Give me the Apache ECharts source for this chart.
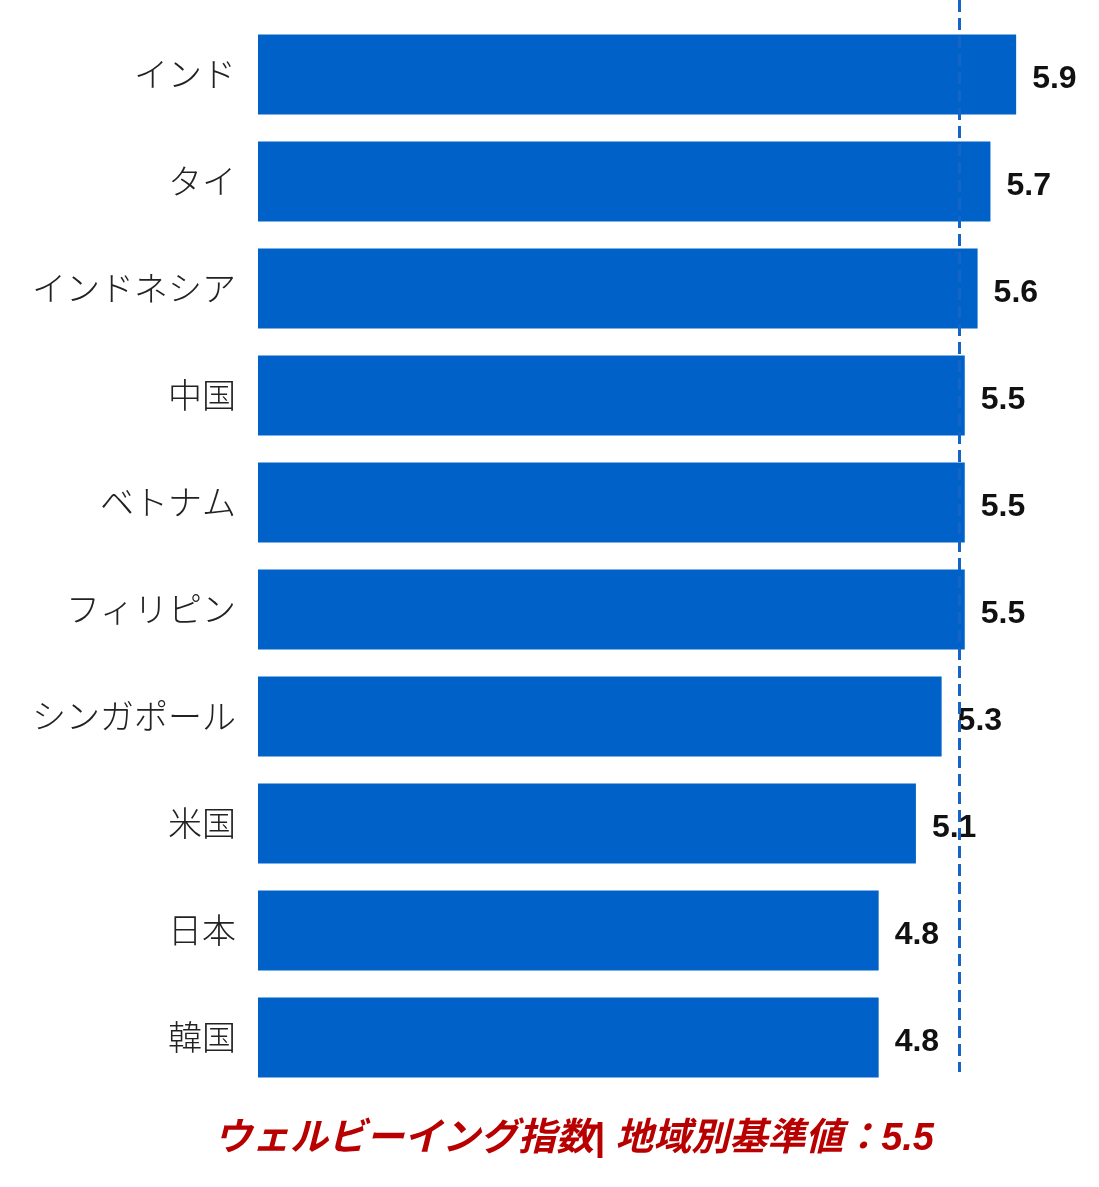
<!DOCTYPE html>
<html>
<head>
<meta charset="utf-8">
<script src="https://cdn.jsdelivr.net/npm/echarts@6/dist/echarts.min.js"></script>
<style>
  html, body { margin: 0; padding: 0; background: #fff; }
  #main { width: 1099px; height: 1187px; }
</style>
</head>
<body>
<div id="main"></div>
<script>
// 国・地域（上から順）
var countries = ['インド', 'タイ', 'インドネシア', '中国', 'ベトナム', 'フィリピン', 'シンガポール', '米国', '日本', '韓国'];
// ウェルビーイング指数
var scores = [5.9, 5.7, 5.6, 5.5, 5.5, 5.5, 5.32, 5.12, 4.83, 4.83];
// 地域別基準値
var baseline = 5.5;
var baselineLinePos = 5.46;

var myChart = echarts.init(document.getElementById('main'));

myChart.setOption({
  animation: false,
  title: {
    text: 'ウェルビーイング指数| 地域別基準値：' + baseline,
    left: 569,
    textAlign: 'center',
    top: 1116,
    textStyle: {
      color: '#b80000',
      fontSize: 38,
      fontWeight: 'bold',
      fontStyle: 'italic',
      fontFamily: '"Liberation Sans", "Noto Sans CJK JP", sans-serif'
    }
  },
  grid: {
    left: 258,
    right: 70,
    top: 21,
    bottom: 96,
    containLabel: false
  },
  xAxis: {
    type: 'value',
    min: 0,
    max: 6,
    show: false
  },
  yAxis: {
    type: 'category',
    inverse: true,
    data: countries,
    axisLine: { show: false },
    axisTick: { show: false },
    axisLabel: {
      margin: 22,
      fontSize: 34,
      color: '#222',
      fontWeight: 300,
      fontFamily: '"Noto Sans CJK JP", sans-serif'
    }
  },
  series: [{
    type: 'bar',
    data: scores,
    barWidth: 80,
    itemStyle: { color: '#0062c8' },
    label: { //数値ラベル
      show: true,
      position: 'right',
      distance: 16,
      offset: [0, 5],
      formatter: function (p) { return p.value.toFixed(1); },
      fontSize: 32,
      fontWeight: 'bold',
      color: '#111',
      fontFamily: '"Liberation Sans", Arial, sans-serif'
    },
    markLine: { //基準値の点線
      silent: true,
      symbol: 'none',
      label: { show: false },
      lineStyle: { color: '#1565c8', width: 3, type: [12, 6] },
      data: [[
        { xAxis: baselineLinePos, y: 0 },
        { xAxis: baselineLinePos, y: 1072 }
      ]]
    }
  }]
});
</script>
</body>
</html>
